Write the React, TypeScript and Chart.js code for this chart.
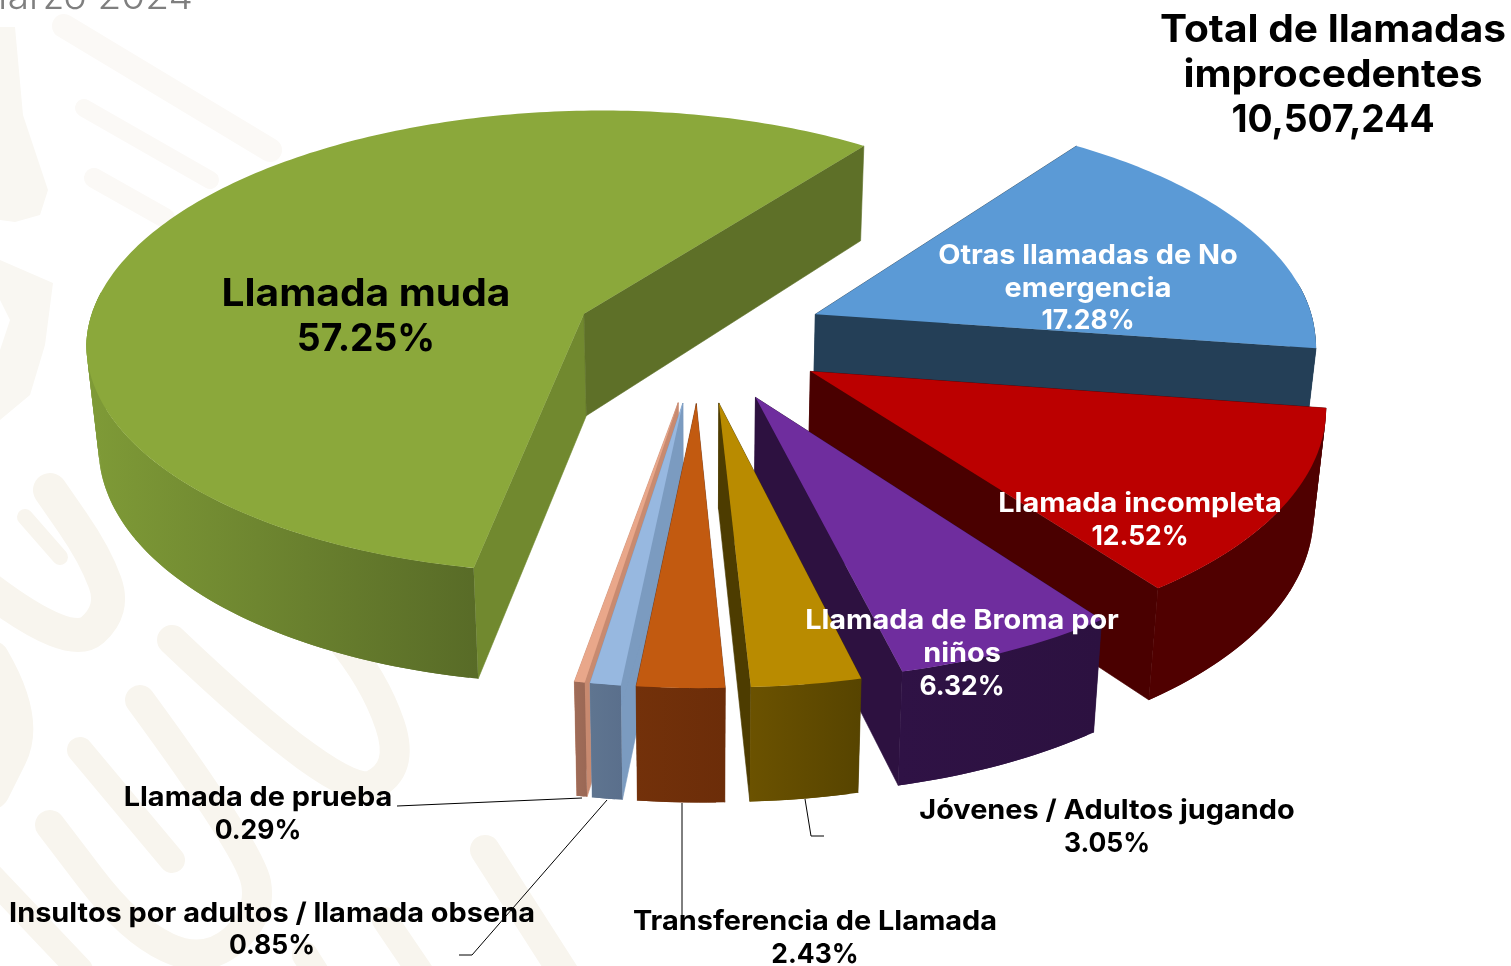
import React, { useEffect, useRef } from "react";
import { Chart, registerables, PieController, ArcElement } from "chart.js";

Chart.register(...registerables);

const categories = [
  "Llamada muda",
  "Otras llamadas de No emergencia",
  "Llamada incompleta",
  "Llamada de Broma por niños",
  "Jóvenes / Adultos jugando",
  "Transferencia de Llamada",
  "Insultos por adultos / llamada obsena",
  "Llamada de prueba",
];
const shares = [57.25, 17.28, 12.52, 6.32, 3.05, 2.43, 0.85, 0.29];
const titleLines = ["Total de llamadas", "improcedentes", "10,507,244"];
const periodLabel = "Marzo 2024";

const topColors = ["#8ba83b", "#5b9ad6", "#bb0000", "#6f2d9e", "#b98b00", "#c25a10", "#97b8e0", "#e9a78a"];
const wallLeft = ["#7f9b37", "#243f57", "#500000", "#2f1245", "#6b5200", "#73310a", "#5f7590", "#a06c58"];
const wallRight = ["#586b27", "#243f57", "#500000", "#2c1140", "#574400", "#6c2d09", "#5a6f8c", "#9a6855"];
const startWall = ["#71892f", "#243f57", "#4a0000", "#2d1140", "#4d3c00", "#6c2d09", "#7b9bc0", "#c88a70"];
const endWall = ["#5e7028", "#243f57", "#4a0000", "#2d1140", "#4d3c00", "#6c2d09", "#7b9bc0", "#c88a70"];

// camera
const PERSPECTIVE = 0.115;
const SCALE_X = 500;
const SCALE_Y = 232;
const DEPTH = 103;
const DEPTH_GROW = 9;
const BASE_SHRINK = 0.98;
const VANISH_X = 700;
const EXPLODE = 136;
const EXPLODE_X = 0.944;

const FONT = "Inter";
const STRETCH = 1.07;
const STRETCH_NUM = 0.98;
type Lbl = { lines: string[]; cx: number; ys: number[]; size: number; color: string };
const labelText = (i: number, lines: string[]) => [...lines, shares[i].toFixed(2) + "%"];
const labels: Lbl[] = [
  { lines: labelText(0, [categories[0]]), cx: 366, ys: [294.5, 339.5], size: 38, color: "#000" },
  { lines: labelText(1, ["Otras llamadas de No", "emergencia"]), cx: 1088, ys: [256, 289, 321], size: 27, color: "#fff" },
  { lines: labelText(2, [categories[2]]), cx: 1140, ys: [504, 537], size: 27, color: "#fff" },
  { lines: labelText(3, ["Llamada de Broma por", "niños"]), cx: 962, ys: [621, 654, 687], size: 27, color: "#fff" },
  { lines: labelText(4, [categories[4]]), cx: 1107, ys: [811, 844], size: 27, color: "#000" },
  { lines: labelText(5, [categories[5]]), cx: 815, ys: [922, 955], size: 27, color: "#000" },
  { lines: labelText(6, [categories[6]]), cx: 272, ys: [914, 946], size: 27, color: "#000" },
  { lines: labelText(7, [categories[7]]), cx: 258, ys: [798, 831], size: 27, color: "#000" },
];

const leaders = [
  [[397, 806], [582, 798]],
  [[607, 800], [472, 955], [459, 955]],
  [[682, 803], [682, 915]],
  [[805, 799], [811, 836], [824, 836]],
];

const faintBands: { w: number; p: number[][] }[] = [
  { w: 24, p: [[64, 26], [270, 150]] },
  { w: 18, p: [[84, 108], [210, 180]] },
  { w: 20, p: [[94, 178], [165, 218]] },
];
const bands: { w: number; p: number[][] }[] = [
  { w: 16, p: [[25, 517], [60, 557]] },
  { w: 34, p: [[-10, 590], [70, 650], [115, 610], [95, 555], [50, 490]] },
  { w: 40, p: [[-10, 660], [25, 720], [-10, 790]] },
  { w: 26, p: [[80, 750], [172, 860]] },
  { w: 30, p: [[140, 700], [250, 850], [262, 915], [205, 965], [130, 930], [50, 825]] },
  { w: 30, p: [[172, 640], [340, 800], [405, 770], [375, 680], [300, 590]] },
  { w: 30, p: [[485, 850], [565, 975]] },
  { w: 26, p: [[-10, 875], [80, 970]] },
  { w: 26, p: [[385, 920], [480, 1060]] },
  { w: 26, p: [[305, 955], [365, 1050]] },
];
const blobs = [
  [[0, 27], [15, 27], [23, 115], [48, 190], [40, 215], [15, 222], [0, 220]],
  [[0, 260], [53, 283], [45, 345], [30, 395], [0, 420], [0, 350], [10, 320], [0, 300]],
];

// Maps a point of a slice, given by its radius and angle, through the camera.
function project(a: any, r: number, t: number, lifted: boolean) {
  const R = a.outerRadius;
  const mid = (a.startAngle + a.endAngle) / 2;
  const E = (a.options?.offset ?? 0) / 4;
  const X = (EXPLODE_X * E * Math.cos(mid) + r * Math.cos(t)) / R;
  const Y = (E * Math.sin(mid) + r * Math.sin(t)) / R;
  const d = 1 - PERSPECTIVE * Y;
  let sx = a.x + 5 + 14 * Math.max(Y, 0) + 6 * Math.min(Y, 0) + (SCALE_X * X) / d;
  let sy = a.y + (SCALE_Y * Y) / d + 4.2 * Math.max(Y, 0) - 5 * X;
  if (!lifted) {
    sy += DEPTH + DEPTH_GROW * Y;
    sx = VANISH_X + BASE_SHRINK * (sx - VANISH_X);
  }
  return [sx, sy];
}

class TiltArc extends (ArcElement as any) {
  static id = "tiltArc";
  draw(ctx: CanvasRenderingContext2D) {
    const a: any = this;
    const steps = Math.max(8, Math.ceil((a.endAngle - a.startAngle) * 60));
    ctx.save();
    ctx.beginPath();
    const o = project(a, 0, 0, true);
    ctx.moveTo(o[0], o[1]);
    for (let s = 0; s <= steps; s++) {
      const q = project(a, a.outerRadius, a.startAngle + ((a.endAngle - a.startAngle) * s) / steps, true);
      ctx.lineTo(q[0], q[1]);
    }
    ctx.closePath();
    ctx.fillStyle = a.options.backgroundColor;
    ctx.fill();
    ctx.restore();
  }
}

class TiltPie extends (PieController as any) {
  static id = "tiltPie";
  static defaults = { dataElementType: "tiltArc" };
}

Chart.register(TiltArc as any, TiltPie as any);

const drawBands = (ctx: any, list: { w: number; p: number[][] }[]) => {
  for (const b of list) {
    ctx.lineWidth = b.w;
    ctx.beginPath();
    ctx.moveTo(b.p[0][0], b.p[0][1]);
    for (let i = 1; i < b.p.length - 1; i++) {
      const mx = (b.p[i][0] + b.p[i + 1][0]) / 2;
      const my = (b.p[i][1] + b.p[i + 1][1]) / 2;
      ctx.quadraticCurveTo(b.p[i][0], b.p[i][1], mx, my);
    }
    ctx.lineTo(b.p[b.p.length - 1][0], b.p[b.p.length - 1][1]);
    ctx.stroke();
  }
};

const scene = {
  id: "scene3d",
  beforeDraw(chart: any) {
    const ctx = chart.ctx;
    ctx.save();
    ctx.lineCap = ctx.lineJoin = "round";
    ctx.strokeStyle = "#fbf9f6";
    drawBands(ctx, faintBands);
    ctx.strokeStyle = "#f8f5ee";
    drawBands(ctx, bands);
    ctx.fillStyle = "#f9f7f2";
    for (const b of blobs) {
      ctx.beginPath();
      b.forEach((q, i) => (i ? ctx.lineTo(q[0], q[1]) : ctx.moveTo(q[0], q[1])));
      ctx.closePath();
      ctx.fill();
    }
    ctx.restore();
  },
  beforeDatasetsDraw(chart: any) {
    const ctx = chart.ctx;
    const arcs = chart.getDatasetMeta(0).data as any[];
    const order = arcs
      .map((a, i) => ({ i, m: Math.sin((a.startAngle + a.endAngle) / 2) }))
      .sort((p, q) => p.m - q.m);

    ctx.save();
    for (const { i } of order) {
      const a = arcs[i];
      const R = a.outerRadius;
      const poly = (pts: number[][], fill: any, edge: boolean) => {
        ctx.beginPath();
        pts.forEach((q, n) => (n ? ctx.lineTo(q[0], q[1]) : ctx.moveTo(q[0], q[1])));
        ctx.closePath();
        ctx.fillStyle = fill;
        ctx.fill();
        if (edge) {
          ctx.strokeStyle = fill;
          ctx.lineWidth = 0.6;
          ctx.stroke();
        }
      };
      const wall = (t: number, fill: string) =>
        poly([project(a, 0, t, true), project(a, R, t, true), project(a, R, t, false), project(a, 0, t, false)], fill, true);
      wall(a.startAngle, startWall[i]);
      wall(a.endAngle, endWall[i]);

      // the outer rim, only where it faces the viewer
      for (let turn = -1; turn <= 2; turn++) {
        const lo = Math.max(a.startAngle, turn * 2 * Math.PI - 0.12);
        const hi = Math.min(a.endAngle, turn * 2 * Math.PI + Math.PI + 0.12);
        if (hi <= lo) continue;
        const steps = Math.max(4, Math.ceil((hi - lo) * 60));
        const upper: number[][] = [];
        const lower: number[][] = [];
        for (let s = 0; s <= steps; s++) {
          const t = lo + ((hi - lo) * s) / steps;
          upper.push(project(a, R, t, true));
          lower.push(project(a, R, t, false));
        }
        const xs = upper.map((q) => q[0]).concat(lower.map((q) => q[0]));
        const g = ctx.createLinearGradient(Math.min(...xs), 0, Math.max(...xs), 0);
        g.addColorStop(0, wallLeft[i]);
        g.addColorStop(1, wallRight[i]);
        // neighbouring quads overlap, so no seam of the background shows
        for (let s = 0; s < steps; s++) {
          const e = Math.min(s + 2, steps);
          poly([upper[s], upper[e], lower[e], lower[s]], g, false);
        }
      }
    }
    ctx.restore();
  },
  afterDraw(chart: any) {
    const ctx = chart.ctx;
    const put = (t: string, x: number, y: number, k?: number) => {
      ctx.save();
      ctx.translate(x, y);
      ctx.scale(k ?? (/^[\d.,%]+$/.test(t) ? STRETCH_NUM : STRETCH), 1);
      ctx.fillText(t, 0, 0);
      ctx.restore();
    };
    ctx.save();
    ctx.strokeStyle = "#000";
    ctx.lineWidth = 1;
    for (const l of leaders) {
      ctx.beginPath();
      l.forEach((q, i) => (i ? ctx.lineTo(q[0], q[1]) : ctx.moveTo(q[0], q[1])));
      ctx.stroke();
    }
    ctx.textBaseline = "middle";
    ctx.textAlign = "center";
    for (const l of labels) {
      ctx.fillStyle = l.color;
      ctx.font = `700 ${l.size}px ${FONT}`;
      l.lines.forEach((t, i) => put(t, l.cx, l.ys[i]));
    }
    ctx.fillStyle = "#000";
    ctx.font = `700 38px ${FONT}`;
    titleLines.forEach((t, i) => put(t, 1333, 31 + i * 45));
    ctx.fillStyle = "#7f7f7f";
    ctx.font = `300 37px ${FONT}`;
    ctx.textAlign = "right";
    ctx.textBaseline = "alphabetic";
    put(periodLabel, 193, 9, 1.05);
    ctx.restore();
  },
};

export default function App() {
  const ref = useRef<HTMLCanvasElement>(null);
  useEffect(() => {
    const chart = new Chart(ref.current as HTMLCanvasElement, {
      type: "tiltPie" as any,
      data: {
        labels: categories,
        datasets: [
          {
            data: shares,
            backgroundColor: topColors,
            borderWidth: 0,
            offset: EXPLODE * 4,
            hoverOffset: EXPLODE * 4,
            clip: false,
          } as any,
        ],
      },
      options: {
        responsive: false,
        animation: false,
        events: [],
        rotation: 191.3,
        radius: 505,
        layout: { padding: { left: 0, right: 123, top: 0, bottom: 290 } },
        plugins: { legend: { display: false }, title: { display: false }, tooltip: { enabled: false } },
      } as any,
      plugins: [scene],
    });
    return () => chart.destroy();
  }, []);
  return (
    <div style={{ position: "fixed", left: 0, top: 0, width: 1511, height: 966, background: "#fff", overflow: "hidden" }}>
      <canvas ref={ref} width={1511} height={966} style={{ display: "block" }} />
    </div>
  );
}
